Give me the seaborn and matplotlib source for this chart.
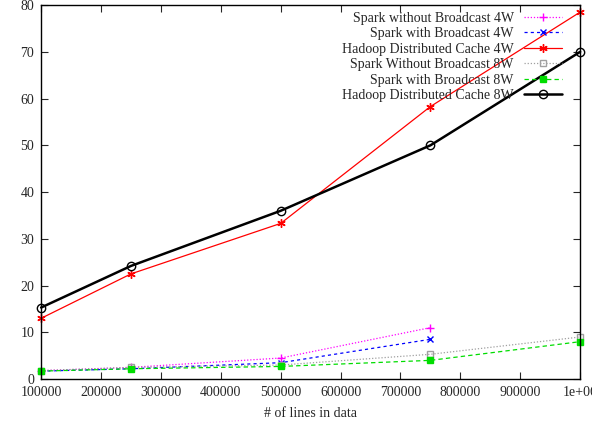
import matplotlib
matplotlib.use("Agg")
import matplotlib.pyplot as plt
import seaborn as sns
import pandas as pd

sns.set_style("ticks")
plt.rcParams['font.family'] = ['Liberation Serif', 'DejaVu Serif']
plt.rcParams['font.size'] = 10

lines = [100000, 250000, 500000, 750000, 1000000]
spark_wo_4w = [1.8, 2.5, 4.5, 11.0, None]
spark_w_4w = [1.7, 2.2, 3.5, 8.5, None]
hadoop_4w = [13.0, 22.5, 33.3, 58.3, 78.5]
spark_wo_8w = [1.8, 2.5, 3.0, 5.3, 9.0]
spark_w_8w = [1.7, 2.2, 2.7, 4.0, 8.0]
hadoop_8w = [15.3, 24.2, 36.0, 50.0, 70.0]

labels = ["Spark without Broadcast 4W", "Spark with Broadcast 4W", "Hadoop Distributed Cache 4W",
          "Spark Without Broadcast 8W", "Spark with Broadcast 8W", "Hadoop Distributed Cache 8W"]
series = [spark_wo_4w, spark_w_4w, hadoop_4w, spark_wo_8w, spark_w_8w, hadoop_8w]
xtick_vals = [100000, 200000, 300000, 400000, 500000, 600000, 700000, 800000, 900000, 1000000]
xtick_labels = ["100000", "200000", "300000", "400000", "500000", "600000", "700000", "800000", "900000", "1e+06"]
yticks = [0, 10, 20, 30, 40, 50, 60, 70, 80]

styles = [
    dict(color="#ff00ff", linestyle=(0, (1, 1.5)), marker="+", lw=0.9, ms=6, mfc="none"),
    dict(color="#0000ff", linestyle=(0, (2.5, 2.5)), marker="x", lw=0.9, ms=5, mfc="none"),
    dict(color="#ff0000", linestyle="-", marker=(6, 2, 0), lw=0.9, ms=6, mfc="none"),
    dict(color="#a0a0a0", linestyle=(0, (1, 1.5)), marker="s", lw=0.9, ms=5, mfc="none"),
    dict(color="#00dd00", linestyle=(0, (3.5, 2.5)), marker="s", lw=0.9, ms=5, mfc="#00dd00"),
    dict(color="#000000", linestyle="-", marker="o", lw=1.8, ms=6, mfc="none"),
]

fig = plt.figure(figsize=(5.92, 4.24), dpi=100)
ax = fig.add_axes([0.0695, 0.106, 0.9105, 0.882])

for lab, vals, st in zip(labels, series, styles):
    df = pd.DataFrame({"x": lines, "y": vals}).dropna()
    sns.lineplot(data=df, x="x", y="y", ax=ax, label=lab, color=st["color"],
                 linestyle=st["linestyle"], marker=st["marker"], linewidth=st["lw"],
                 markersize=st["ms"], markerfacecolor=st["mfc"], markeredgecolor=st["color"],
                 markeredgewidth=1.0, clip_on=False)

ax.set_xlim(100000, 1000000)
ax.set_ylim(0, 80)
ax.set_xticks(xtick_vals)
ax.set_xticklabels(xtick_labels)
ax.set_yticks(yticks)
ax.set_xlabel("# of lines in data", fontsize=10, labelpad=6)
ax.set_ylabel("")
ax.tick_params(direction="in", top=True, right=True, length=5, width=0.8, labelsize=10, pad=5)
for s in ax.spines.values():
    s.set_linewidth(1.0)
    s.set_color("black")

leg = ax.legend(loc="upper right", bbox_to_anchor=(0.967, 0.982), markerfirst=False,
                frameon=False, handlelength=2.75, labelspacing=0.18, handletextpad=0.75,
                borderaxespad=0.0, borderpad=0.0, fontsize=10)

fig.savefig("out.png", dpi=100)
